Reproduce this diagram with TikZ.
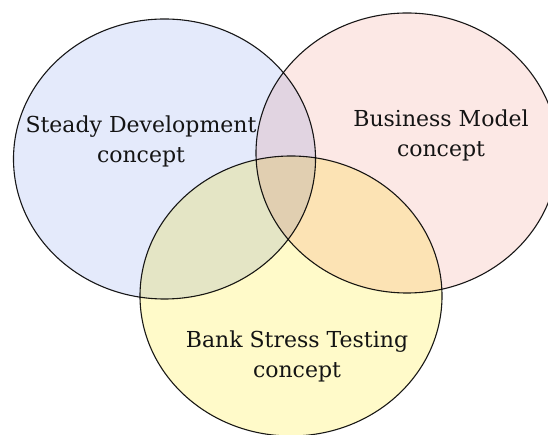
\documentclass[tikz,border=0pt]{standalone}
\usepackage{fontspec}
\setmainfont{DejaVu Serif}
\usetikzlibrary{shapes}
\definecolor{sdblue}{HTML}{E4EAFB}
\definecolor{bmpink}{HTML}{FCE8E5}
\definecolor{bstyellow}{HTML}{FFFAC9}
\tikzstyle{vset} = [ellipse, draw=black!90, line width=1.1pt, inner sep=0pt, minimum width=302pt, minimum height=280pt]
\tikzstyle{vlabel} = [align=center, inner sep=0pt, font=\fontsize{22}{30}\selectfont, text=black!92]

\begin{document}
\begin{tikzpicture}[x=1pt,y=1pt]
	\useasboundingbox (0,0) rectangle (548,435);
	\begin{scope}[blend group=multiply]
		\node [vset, fill=bmpink] (bm) at (407,282) {};
		\node [vset, fill=sdblue] (sd) at (164.5,276) {};
		\node [vset, fill=bstyellow] (bst) at (291,139) {};
	\end{scope}
	
	\node [vlabel] (sdtext) at (141,294) {Steady Development\\concept};
	\node [vlabel] (bmtext) at (441,300) {Business Model\\concept};
	\node [vlabel] (bsttext) at (297,79) {Bank Stress Testing\\concept};
\end{tikzpicture}
\end{document}
